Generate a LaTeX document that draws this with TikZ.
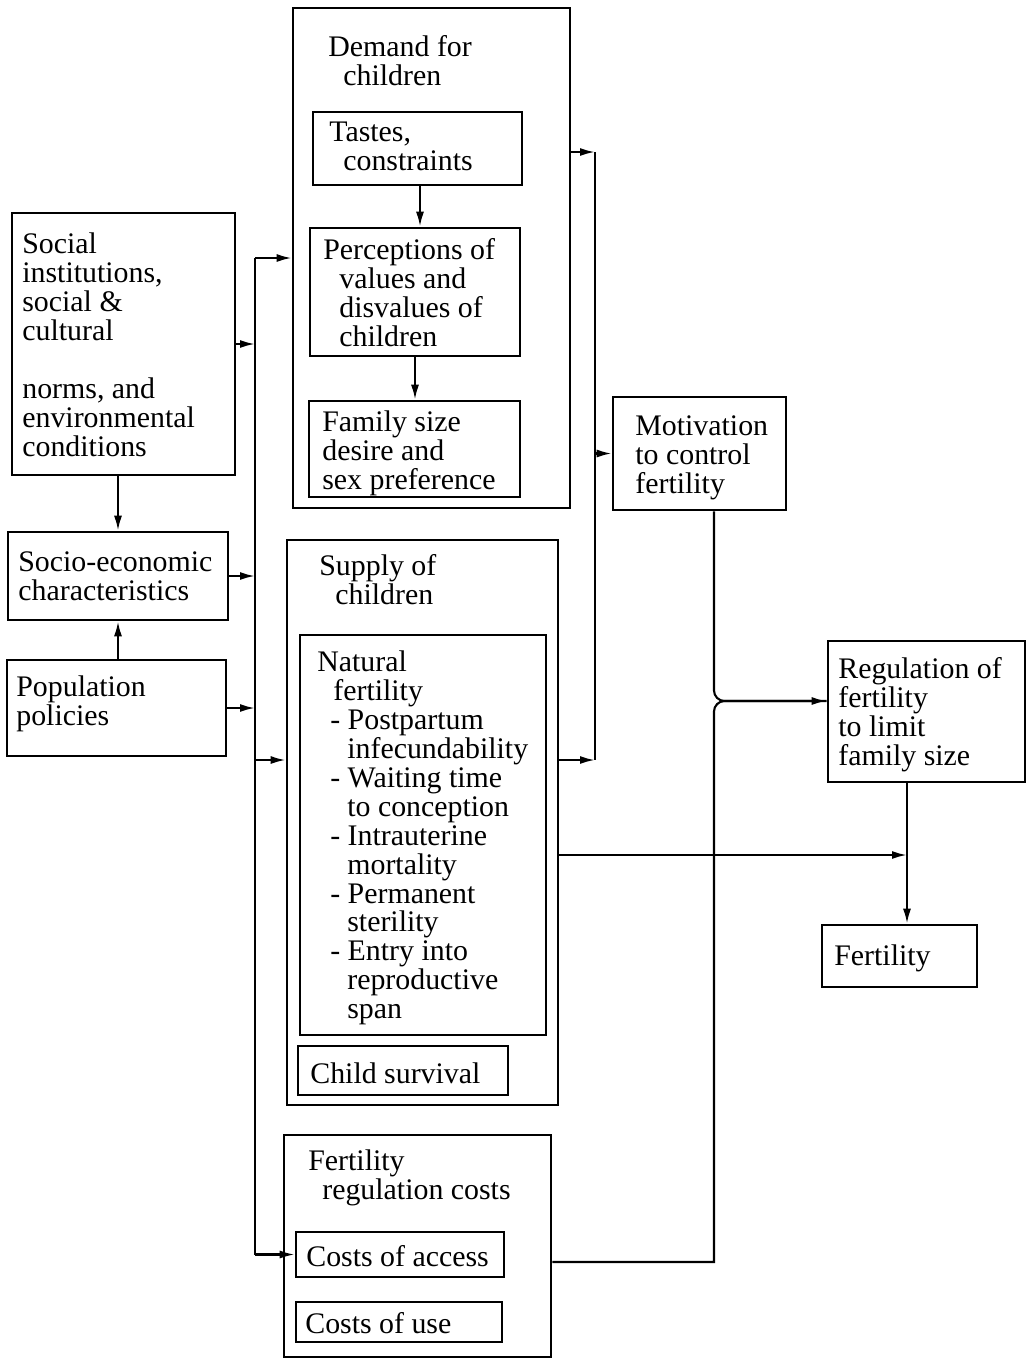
\documentclass[tikz,border=0pt]{standalone}
\usepackage{fontspec}
\setmainfont{Liberation Serif}
\usetikzlibrary{arrows.meta,fit}

\begin{document}
\begin{tikzpicture}[x=0.02cm,y=-0.02cm]
\tikzset{cadre/.style={draw, line width=1.5pt, inner sep=0pt},
  texte/.style={anchor=north west, inner sep=0pt, align=left, font=\fontsize{17pt}{16.5pt}\selectfont},
  trait/.style={line width=1.2pt},
  fleche/.style={trait, -{Latex[length=3mm,width=1.6mm]}}}
\useasboundingbox (0,0) rectangle (1032,1360);
\node[cadre, fit={(12,213)(235,475)}] (Soc) {};
\node[cadre, fit={(8,532)(228,620)}] (Eco) {};
\node[cadre, fit={(7,660)(226,756)}] (Pol) {};
\node[cadre, fit={(293,8)(570,508)}] (Dem) {};
\node[cadre, fit={(313,112)(522,185)}] (Gout) {};
\node[cadre, fit={(310,228)(520,356)}] (Perc) {};
\node[cadre, fit={(309,401)(520,497)}] (Taille) {};
\node[cadre, fit={(287,540)(558,1105)}] (Offre) {};
\node[cadre, fit={(300,635)(546,1035)}] (Nat) {};
\node[cadre, fit={(298,1046)(508,1095)}] (Surv) {};
\node[cadre, fit={(284,1135)(551,1357)}] (Cout) {};
\node[cadre, fit={(296,1232)(504,1277)}] (Acces) {};
\node[cadre, fit={(296,1302)(502,1342)}] (Usage) {};
\node[cadre, fit={(613,397)(786,510)}] (Motiv) {};
\node[cadre, fit={(828,641)(1025,782)}] (Regul) {};
\node[cadre, fit={(822,925)(977,987)}] (Fert) {};

\node[texte] (tSoc) at (22,232) {Social\\institutions,\\social \&\\cultural\\[16.5pt]norms, and\\environmental\\conditions};
\node[texte] (tEco) at (18,551) {Socio-economic\\characteristics};
\node[texte] (tPol) at (16,675) {Population\\policies};
\node[texte] (tDem) at (328,35) {Demand for\\\hspace*{0.3cm}children};
\node[texte] (tGout) at (329,122) {Tastes,\\\hspace*{0.28cm}constraints};
\node[texte] (tPerc) at (323,238) {Perceptions of\\\hspace*{0.32cm}values and\\\hspace*{0.32cm}disvalues of\\\hspace*{0.32cm}children};
\node[texte] (tTaille) at (322,410) {Family size\\desire and\\sex preference};
\node[texte] (tOffre) at (319,554) {Supply of\\\hspace*{0.32cm}children};
\node[texte] (tNat) at (317,650) {Natural\\\hspace*{0.32cm}fertility\\
  \hspace*{0.26cm}- Postpartum\\\hspace*{0.6cm}infecundability\\
  \hspace*{0.26cm}- Waiting time\\\hspace*{0.6cm}to conception\\
  \hspace*{0.26cm}- Intrauterine\\\hspace*{0.6cm}mortality\\
  \hspace*{0.26cm}- Permanent\\\hspace*{0.6cm}sterility\\
  \hspace*{0.26cm}- Entry into\\\hspace*{0.6cm}reproductive\\\hspace*{0.6cm}span};
\node[texte] (tSurv) at (310,1062) {Child survival};
\node[texte] (tCout) at (308,1149) {Fertility\\\hspace*{0.28cm}regulation costs};
\node[texte] (tAcces) at (306,1245) {Costs of access};
\node[texte] (tUsage) at (305,1312) {Costs of use};
\node[texte] (tMotiv) at (635,415) {Motivation\\to control\\fertility};
\node[texte] (tRegul) at (838,657) {Regulation of\\fertility\\to limit\\family size};
\node[texte] (tFert) at (834,944) {Fertility};

\coordinate (tronc) at (255,760);
\coordinate (dsort) at (595,152);
\coordinate (osort) at (595,760);
\coordinate (fsort) at (907,855);
\coordinate (m) at (714,701);
\coordinate (csort) at (714,1262);

\draw[fleche] (Soc.south -| Eco.north) -- (Eco.north);
\draw[fleche] (Pol.north -| Eco.south) -- (Eco.south);
\draw[fleche] (Gout.south -| 420,0) -- (Perc.north -| 420,0);
\draw[fleche] (Perc.south -| 415,0) -- (Taille.north -| 415,0);
\draw[fleche] (Soc.east) -- (Soc.east -| tronc);
\draw[fleche] (Eco.east) -- (Eco.east -| tronc);
\draw[fleche] (Pol.east) -- (Pol.east -| tronc);
\draw[trait] (Dem.west -| tronc) -- (Acces.west -| tronc);
\draw[fleche] (Dem.west -| tronc) -- (Dem.west);
\draw[fleche] (tronc) -- (tronc -| Offre.west);
\draw[fleche] (Acces.west -| tronc) -- (Acces.west);
\draw[fleche] (dsort -| Dem.east) -- (dsort);
\draw[fleche] (osort -| Offre.east) -- (osort);
\draw[trait] (dsort) -- (osort);
\draw[fleche] (Motiv.west -| dsort) -- (Motiv.west);
\draw[fleche] (fsort -| Offre.east) -- (fsort);
\draw[fleche] (Regul.south -| fsort) -- (Fert.north -| fsort);
\draw[trait] (csort -| Cout.east) -- (csort) [rounded corners=6pt] -- (m) -- (m -| Regul.west);
\draw[fleche, rounded corners=6pt] (Motiv.south -| m) -- (m) -- (m -| Regul.west);
\end{tikzpicture}
\end{document}
